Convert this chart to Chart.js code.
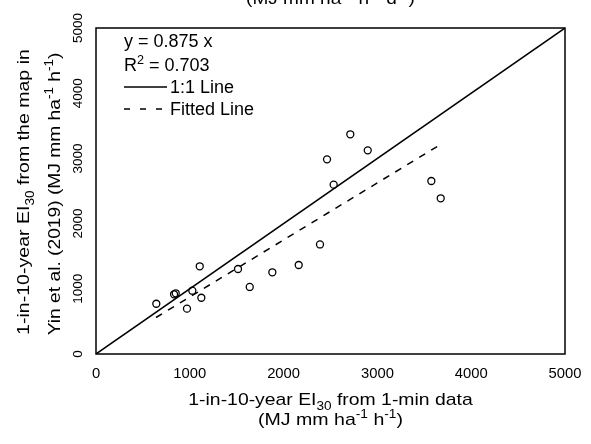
<!DOCTYPE html>
<html>
<head>
<meta charset="utf-8">
<script src="https://cdn.jsdelivr.net/npm/chart.js@4/dist/chart.umd.min.js"></script>
<style>
  body { margin: 0; background: #fff; }
  canvas { display: block; }
</style>
</head>
<body>
<canvas id="myChart" width="591" height="444"></canvas>
<script>
// values
var xVals = [643, 850, 832, 1106, 1027, 1123, 970, 1514, 1639, 1880, 2161, 2388, 2463, 2711, 2897, 2534, 3575, 3675];
var yVals = [771, 931, 916, 1345, 971, 863, 695, 1304, 1028, 1253, 1365, 1680, 2986, 3370, 3124, 2597, 2653, 2388];
var oneToOneX = [0, 5000];
var oneToOneY = [0, 5000];
var fitX = [640, 3680];
var fitY = [560, 3220];
var xTicks = [0, 1000, 2000, 3000, 4000, 5000];
var yTicks = [0, 1000, 2000, 3000, 4000, 5000];
var eqText = 'y = 0.875 x';
var r2Text = ' = 0.703';
var legendNames = ['1:1 Line', 'Fitted Line'];

var FONT = '"Liberation Sans", Arial, sans-serif';

function toPoints(xs, ys) {
  return xs.map(function(x, i) { return { x: x, y: ys[i] }; });
}

// text with sub / superscripts, optionally rotated, stretched along its direction
function drawRich(ctx, parts, x, y, size, stretch, rotate, align) {
  ctx.save();
  var total = 0;
  parts.forEach(function(p) {
    ctx.font = (p.sub || p.sup ? size * 0.7 : size) + 'px ' + FONT;
    p.w = ctx.measureText(p.t).width;
    total += p.w;
  });
  ctx.translate(x, y);
  if (rotate) ctx.rotate(-Math.PI / 2);
  ctx.scale(stretch, 1);
  var cx = align === 'left' ? 0 : -total / 2;
  ctx.fillStyle = '#000';
  ctx.textBaseline = 'alphabetic';
  ctx.textAlign = 'left';
  parts.forEach(function(p) {
    ctx.font = (p.sub || p.sup ? size * 0.7 : size) + 'px ' + FONT;
    var dy = p.sub ? size * 0.3 : (p.sup ? -size * 0.4 : 0);
    ctx.fillText(p.t, cx, dy);
    cx += p.w;
  });
  ctx.restore();
}

var decor = {
  id: 'decor',
  afterDraw: function(chart) {
    var ctx = chart.ctx;
    var a = chart.chartArea;
    var sx = chart.scales.x, sy = chart.scales.y;
    ctx.save();
    // frame
    ctx.strokeStyle = '#000';
    ctx.lineWidth = 1.5;
    ctx.strokeRect(a.left, a.top, a.right - a.left, a.bottom - a.top);

    // tick labels
    xTicks.forEach(function(v) {
      drawRich(ctx, [{ t: String(v) }], sx.getPixelForValue(v), 378, 14.8, 1, false);
    });
    yTicks.forEach(function(v) {
      drawRich(ctx, [{ t: String(v) }], 82, sy.getPixelForValue(v), 13.5, 1, true);
    });

    // axis titles
    var mid = (a.left + a.right) / 2;
    drawRich(ctx, [{ t: '1-in-10-year EI' }, { t: '30', sub: true }, { t: ' from 1-min data' }], mid, 405, 17, 1.14, false);
    drawRich(ctx, [{ t: '(MJ mm ha' }, { t: '-1', sup: true }, { t: ' h' }, { t: '-1', sup: true }, { t: ')' }], mid, 425, 17, 1.15, false);
    drawRich(ctx, [{ t: '1-in-10-year EI' }, { t: '30', sub: true }, { t: ' from the map in' }], 29, 192, 17, 1.15, true);
    drawRich(ctx, [{ t: 'Yin et al. (2019) (MJ mm ha' }, { t: '-1', sup: true }, { t: ' h' }, { t: '-1', sup: true }, { t: ')' }], 60, 194, 17, 1.13, true);

    // cut-off text from the panel above
    drawRich(ctx, [{ t: '(MJ mm ha' }, { t: '-1', sup: true }, { t: ' h' }, { t: '-1', sup: true }, { t: ' d' }, { t: '-1', sup: true }, { t: ')' }], mid, 4, 17, 1.12, false);

    // equation and legend
    drawRich(ctx, [{ t: eqText }], 124, 47, 18, 1, false, 'left');
    drawRich(ctx, [{ t: 'R' }, { t: '2', sup: true }, { t: r2Text }], 124, 71, 18, 1, false, 'left');
    ctx.strokeStyle = '#000';
    ctx.lineWidth = 1.5;
    ctx.beginPath();
    ctx.moveTo(124, 87);
    ctx.lineTo(167, 87);
    ctx.stroke();
    ctx.setLineDash([6, 10]);
    ctx.beginPath();
    ctx.moveTo(124, 109);
    ctx.lineTo(167, 109);
    ctx.stroke();
    ctx.setLineDash([]);
    drawRich(ctx, [{ t: legendNames[0] }], 170, 93, 18, 1, false, 'left');
    drawRich(ctx, [{ t: legendNames[1] }], 170, 115, 18, 1, false, 'left');
    ctx.restore();
  }
};

function chart() {
  var ctx = document.getElementById('myChart').getContext('2d');
  return new Chart(ctx, {
    type: 'scatter',
    data: {
      datasets: [{
        label: 'points',
        data: toPoints(xVals, yVals),
        pointStyle: 'circle',
        pointRadius: 3.5,
        pointBorderWidth: 1.3,
        borderColor: '#000',
        backgroundColor: 'rgba(0,0,0,0)',
      }, {
        label: legendNames[0],
        data: toPoints(oneToOneX, oneToOneY),
        showLine: true,
        pointRadius: 0,
        borderColor: '#000',
        borderWidth: 1.5,
      }, {
        label: legendNames[1],
        data: toPoints(fitX, fitY),
        showLine: true,
        pointRadius: 0,
        borderColor: '#000',
        borderWidth: 1.5,
        borderDash: [7, 7],
      }]
    },
    options: {
      responsive: false,
      animation: false,
      devicePixelRatio: 1,
      layout: { padding: { left: 96, top: 28, right: 26, bottom: 90 } },
      plugins: { legend: { display: false }, tooltip: { enabled: false } },
      scales: {
        x: { type: 'linear', min: 0, max: 5000, display: false },
        y: { type: 'linear', min: 0, max: 5000, display: false }
      }
    },
    plugins: [decor]
  });
}

chart();
</script>
</body>
</html>
